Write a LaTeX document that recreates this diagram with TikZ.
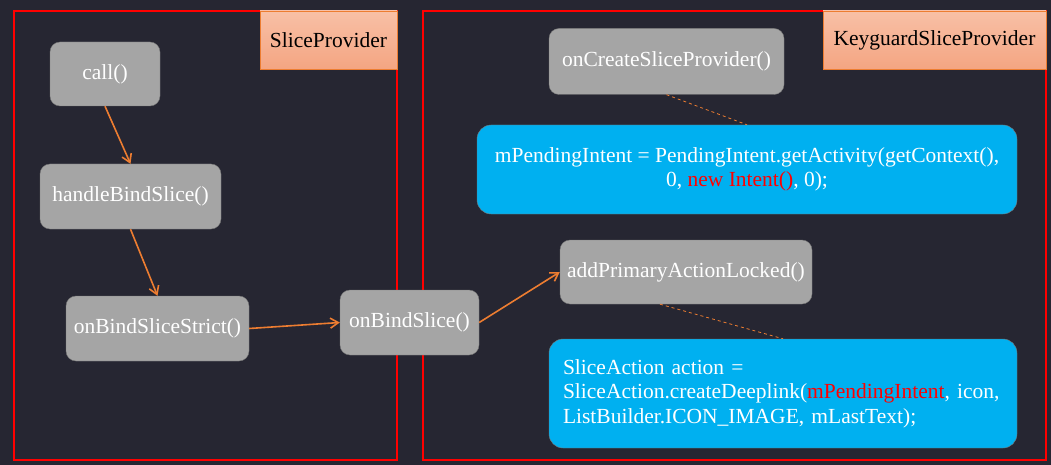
\documentclass[tikz,border=0pt]{standalone}
\usepackage{fontspec}
\setmainfont{Liberation Serif}
\usetikzlibrary{arrows.meta}

\definecolor{bgdark}{RGB}{38,38,50}
\definecolor{methodgrey}{RGB}{165,165,165}
\definecolor{methodedge}{RGB}{120,120,120}
\definecolor{codeblue}{RGB}{0,176,240}
\definecolor{tagtop}{RGB}{248,192,166}
\definecolor{tagbottom}{RGB}{244,165,130}
\definecolor{tagedge}{RGB}{237,125,49}
\definecolor{flow}{RGB}{237,125,49}

\begin{document}
\begin{tikzpicture}[x=1pt,y=-1pt,
    method/.style={draw=methodedge, fill=methodgrey, rounded corners=10pt,
      text=white, inner sep=0pt, font=\fontsize{21.5}{24.5}\selectfont},
    codebox/.style={draw=methodedge, fill=codeblue, rounded corners=14pt,
      text=white, inner sep=0pt, font=\fontsize{21.5}{24.5}\selectfont},
    classtag/.style={draw=tagedge, top color=tagtop, bottom color=tagbottom,
      text=black, inner sep=0pt, font=\fontsize{21.5}{24.5}\selectfont},
    frame/.style={draw=red, line width=2pt},
    callarrow/.style={-{Straight Barb[length=8pt,width=10pt]}, draw=flow, line width=1.6pt},
    notelink/.style={dashed, draw=flow, line width=0.8pt}]

      \pgfmathsetmacro{\wpic}{1051};
      \pgfmathsetmacro{\hpic}{465};

      \fill[bgdark] (0,0) rectangle (\wpic,\hpic);
      \useasboundingbox (0,0) rectangle (\wpic,\hpic);

      % the two classes
      \draw[frame] (14,11) rectangle (397,460);
      \draw[frame] (423,11) rectangle (1046,460);

      \node[classtag, minimum width=137pt, minimum height=58pt]
        (tagslice) at (328.5,40) {SliceProvider};
      \node[classtag, minimum width=223pt, minimum height=58pt]
        (tagkey) at (934.5,40) {KeyguardSliceProvider};

      % SliceProvider side
      \node[method, minimum width=110pt, minimum height=64pt]
        (call) at (105,74) {call()};
      \node[method, minimum width=181pt, minimum height=65pt]
        (handle) at (130.5,196.5) {handleBindSlice()};
      \node[method, minimum width=183pt, minimum height=65pt]
        (strict) at (157.5,328.5) {onBindSliceStrict()};
      \node[method, minimum width=139pt, minimum height=65pt]
        (bind) at (409.5,322.5) {onBindSlice()};

      % KeyguardSliceProvider side
      \node[method, minimum width=235pt, minimum height=66pt]
        (create) at (666.5,61.5) {onCreateSliceProvider()};
      \node[codebox, minimum width=540pt, minimum height=89pt, align=center]
        (pending) at (747,169.5)
        {mPendingIntent = PendingIntent.getActivity(getContext(),\\
         0, \textcolor{red}{new Intent()}, 0);};
      \node[method, minimum width=252pt, minimum height=64pt]
        (primary) at (686,272) {addPrimaryActionLocked()};
      \node[codebox, minimum width=468pt, minimum height=109pt,
        text width=440pt, align=left]
        (action) at (783,393.5)
        {SliceAction action =\\
         SliceAction.createDeeplink(\textcolor{red}{mPendingIntent}, icon,\\
         ListBuilder.ICON\_IMAGE, mLastText);};

      \draw[callarrow] (call.south) -- (handle.north);
      \draw[callarrow] (handle.south) -- (strict.north);
      \draw[callarrow] (strict.east) -- (bind.west);
      \draw[callarrow] (bind.east) -- (primary.west);

      \draw[notelink] (create.south) -- (pending.north);
      \draw[notelink] ([xshift=-26pt]primary.south) -- (action.north);
    \end{tikzpicture}
\end{document}
